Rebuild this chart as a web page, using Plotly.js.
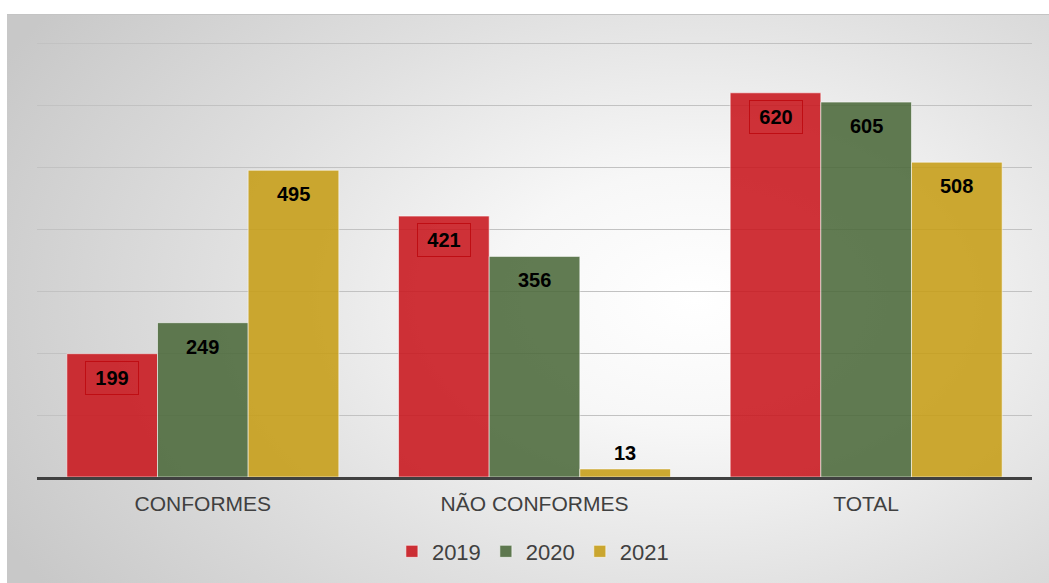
<!DOCTYPE html>
<html>
<head>
<meta charset="utf-8">
<script src="https://cdn.plot.ly/plotly-3.0.1.min.js"></script>
<style>
  html, body { margin: 0; padding: 0; background: #ffffff; }
  #bg { position: absolute; left: 7px; top: 14px; width: 1042px; height: 569px;
        background: radial-gradient(ellipse 75% 90% at 66% 50%, #ffffff 0%, #f7f7f7 25%, #e0e0e0 60%, #c8c8c8 100%);
        border-top: 1px solid #c4c4c4; }
  #chart { position: absolute; left: 0; top: 0; width: 1049px; height: 583px; }
</style>
</head>
<body>
<div id="bg"></div>
<div id="chart"></div>
<script>
const categories = ["CONFORMES", "NÃO CONFORMES", "TOTAL"];
const seriesNames = ["2019", "2020", "2021"];
const values2019 = [199, 421, 620];
const values2020 = [249, 356, 605];
const values2021 = [495, 13, 508];
const seriesColors = ["rgba(200,22,28,0.88)", "rgba(75,105,58,0.88)", "rgba(198,157,22,0.88)"];
const yTicks = [0, 100, 200, 300, 400, 500, 600, 700];

const allValues = [values2019, values2020, values2021];
const catIdx = categories.map((c, i) => i);
const bargap = 0.18;

const traces = allValues.map((vals, j) => ({
  type: "bar",
  name: seriesNames[j],
  x: catIdx,
  y: vals,
  marker: { color: seriesColors[j], line: { color: "rgba(255,255,255,0.55)", width: 1 } },
  hoverinfo: "skip"
}));

const annotations = [];
allValues.forEach((vals, j) => {
  vals.forEach((v, i) => {
    const small = v < 60;
    const a = {
      x: i + (j - 1) * (1 - bargap) / 3,
      y: v,
      xref: "x", yref: "y",
      text: "<b>" + v + "</b>",
      showarrow: false,
      yanchor: "middle",
      yshift: small ? 16 : -24,
      font: { family: "Liberation Sans, Arial, sans-serif", size: 20, color: "#000000" }
    };
    if (j === 0) {
      a.bordercolor = "rgba(190,10,15,0.9)";
      a.borderwidth = 1;
      a.borderpad = 4;
      a.width = 44;
      a.height = 24;
    }
    annotations.push(a);
  });
});

const layout = {
  width: 1049, height: 583,
  margin: { l: 37, r: 17, t: 42, b: 106, autoexpand: false },
  paper_bgcolor: "rgba(0,0,0,0)",
  plot_bgcolor: "rgba(0,0,0,0)",
  barmode: "group",
  bargap: bargap,
  bargroupgap: 0,
  font: { family: "Liberation Sans, Arial, sans-serif", color: "#404040" },
  xaxis: {
    range: [-0.5, 2.5],
    tickvals: catIdx,
    ticktext: categories,
    showline: true, linecolor: "#404040", linewidth: 3,
    showgrid: false, zeroline: false, ticks: "",
    tickfont: { size: 21, color: "#404040" },
    ticklabelstandoff: 6,
    automargin: false
  },
  yaxis: {
    range: [0, 702],
    tickvals: yTicks,
    showticklabels: false,
    showgrid: true, gridcolor: "#c2c2c2", gridwidth: 1,
    zeroline: false, showline: false, ticks: "",
    automargin: false
  },
  showlegend: true,
  legend: {
    orientation: "h",
    x: 0.508, xanchor: "center", xref: "container",
    y: 0.09, yanchor: "top", yref: "container",
    font: { size: 22, color: "#404040" },
    itemwidth: 30,
    traceorder: "normal"
  },
  annotations: annotations
};

Plotly.newPlot("chart", traces, layout, { staticPlot: true, displayModeBar: false });
</script>
</body>
</html>
